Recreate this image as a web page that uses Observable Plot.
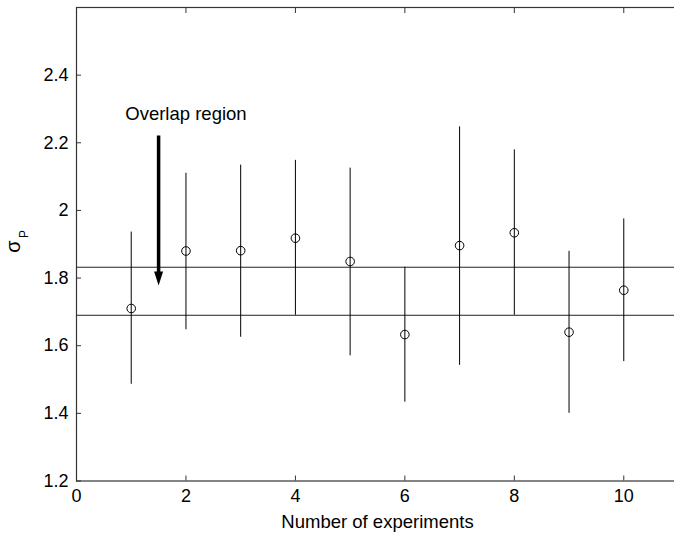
<!DOCTYPE html>
<html><head><meta charset="utf-8">
<script src="https://cdn.jsdelivr.net/npm/d3@7"></script>
<script src="https://cdn.jsdelivr.net/npm/@observablehq/plot@0.6"></script>
<style>body{margin:0;background:#fff}</style>
</head><body><div id="chart"></div>
<script>
// ---- data ----
const experiments = [1, 2, 3, 4, 5, 6, 7, 8, 9, 10];
const sigmaP      = [1.710, 1.880, 1.881, 1.918, 1.849, 1.633, 1.896, 1.934, 1.640, 1.764];
const lowerBound  = [1.486, 1.647, 1.625, 1.690, 1.570, 1.433, 1.542, 1.690, 1.400, 1.553];
const upperBound  = [1.936, 2.110, 2.134, 2.148, 2.125, 1.832, 2.247, 2.179, 1.879, 1.975];
const overlapLines = [1.690, 1.832];
const xTicks = [0, 2, 4, 6, 8, 10];
const yTicks = [1.2, 1.4, 1.6, 1.8, 2, 2.2, 2.4];
const annotationText = ["Overlap region"];
const annotationPos = [2.0, 2.285];
const arrowX = [1.5];
const arrowShaft = [2.22, 1.80];
const arrowTip = [1.778];

const rows = experiments.map((e, i) => ({x: e, y: sigmaP[i], lo: lowerBound[i], hi: upperBound[i]}));

// downward pointing narrow triangle with tip at the origin
const arrowHead = {
  draw(ctx) {
    ctx.moveTo(0, 0);
    ctx.lineTo(-4.5, -14);
    ctx.lineTo(4.5, -14);
    ctx.closePath();
  }
};

const frameColor = "#333";
const noLabel = () => "";
const font = "'Liberation Sans', Arial, sans-serif";

const plot = Plot.plot({
  width: 674,
  height: 536,
  marginLeft: 76,
  marginRight: -4,
  marginTop: 7,
  marginBottom: 55.5,
  style: {fontFamily: font, fontSize: "18px", background: "#fff", color: "#000"},
  x: {domain: [0, 11]},
  y: {domain: [1.2, 2.6]},
  marks: [
    Plot.ruleY(overlapLines, {stroke: "#222", strokeWidth: 1}),
    Plot.ruleX(rows, {x: "x", y1: "lo", y2: "hi", stroke: "#000", strokeWidth: 1}),
    Plot.dot(rows, {x: "x", y: "y", r: 4.3, stroke: "#000", strokeWidth: 1, fill: "none"}),
    Plot.ruleX(arrowX, {x: d => d, y1: arrowShaft[0], y2: arrowShaft[1], stroke: "#000", strokeWidth: 3.5}),
    Plot.dot(arrowTip, {x: arrowX[0], y: d => d, symbol: arrowHead, fill: "#000", stroke: "none", r: 5}),
    Plot.text(annotationText, {x: annotationPos[0], y: annotationPos[1], text: d => d, fontSize: 18.5, fill: "#000"}),
    Plot.axisX({anchor: "bottom", ticks: xTicks, tickSize: 0, tickPadding: 8, tickFormat: d => String(d), label: null, fontSize: 18}),
    Plot.axisY({anchor: "left", ticks: yTicks, tickSize: 0, tickPadding: 8, tickFormat: d => String(d), label: null, fontSize: 18}),
    Plot.axisX({anchor: "bottom", ticks: xTicks, tickSize: -5, tickFormat: noLabel, label: null, stroke: frameColor}),
    Plot.axisX({anchor: "top", ticks: xTicks, tickSize: -5, tickFormat: noLabel, label: null, stroke: frameColor}),
    Plot.axisY({anchor: "left", ticks: yTicks, tickSize: -5, tickFormat: noLabel, label: null, stroke: frameColor}),
    Plot.axisY({anchor: "right", ticks: yTicks, tickSize: -5, tickFormat: noLabel, label: null, stroke: frameColor}),
    Plot.text(["Number of experiments"], {frameAnchor: "bottom", dy: 47, text: d => d, fontSize: 18.5, fill: "#000"}),
    Plot.frame({stroke: frameColor, strokeWidth: 1.2})
  ]
});
document.getElementById("chart").appendChild(plot);

// y-axis label: sigma with subscript P
const svg = d3.select(plot);
svg.append("text")
  .attr("transform", "translate(19.5,246.5) rotate(-90)")
  .attr("text-anchor", "middle")
  .attr("font-family", font)
  .attr("font-size", 20)
  .attr("fill", "#000")
  .text("σ");
svg.append("text")
  .attr("transform", "translate(28,234) rotate(-90)")
  .attr("text-anchor", "middle")
  .attr("font-family", font)
  .attr("font-size", 12)
  .attr("fill", "#000")
  .text("P");
</script>
</body></html>
